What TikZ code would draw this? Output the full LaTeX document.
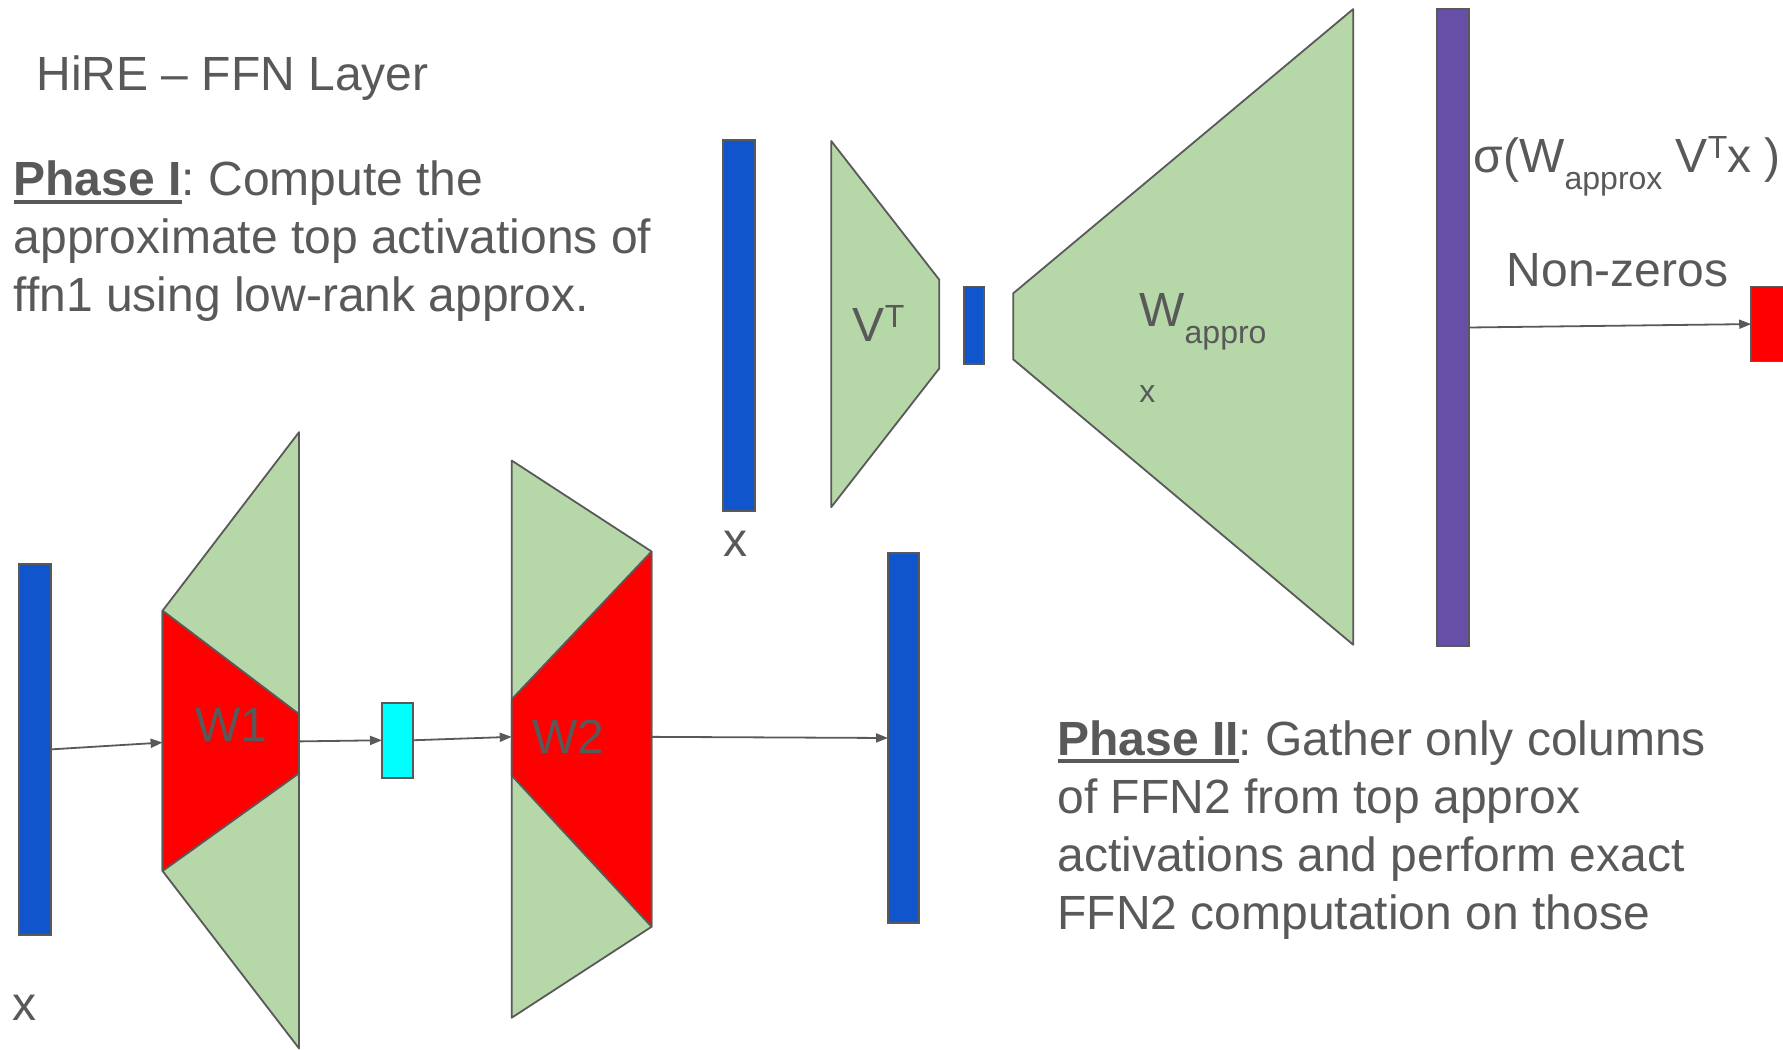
\documentclass[tikz,border=0pt]{standalone}
\usepackage{fontspec}
\setmainfont{Liberation Sans}
\usetikzlibrary{arrows.meta}
\definecolor{blueC}{HTML}{1155CC}
\definecolor{greenC}{HTML}{B6D7A8}
\definecolor{redC}{HTML}{FF0000}
\definecolor{cyanC}{HTML}{00FFFF}
\definecolor{purpleC}{HTML}{674EA7}
\definecolor{lineC}{HTML}{595959}
\definecolor{textC}{HTML}{595959}
\newcommand\subtxt[1]{\raisebox{-8.5pt}{\fontsize{16}{19}\selectfont #1}}
\newcommand\suptxt[1]{\raisebox{7pt}{\fontsize{16}{19}\selectfont #1}}
\newcommand\ulbf[1]{\setbox0\hbox{\textbf{#1}}\rlap{\rule[-4pt]{\wd0}{1.8pt}}\box0}
\frenchspacing
\begin{document}
\begin{tikzpicture}[x=0.5686pt,y=-0.5686pt,
  bar/.style={rectangle,draw=lineC,line width=0.9pt,inner sep=0pt,outer sep=0pt},
  trap/.style={draw=lineC,line width=0.9pt,line join=round},
  conn/.style={draw=lineC,line width=0.9pt,-{Triangle[length=6pt,width=4.5pt]}},
  txt/.style={text=textC,inner sep=0pt,outer sep=0pt,font=\fontsize{24}{29}\selectfont,anchor=base west}]
\useasboundingbox (0,0) rectangle (1568,923);

% ---- Phase I (top) ----
\node[bar,fill=blueC,minimum width=15.9pt,minimum height=185.4pt] (xtop) at (650,286) {};
\draw[trap,fill=greenC] (731,124) -- (826,246) -- (826,324) -- (731,446) -- cycle;
\node[bar,fill=blueC,minimum width=9.7pt,minimum height=38.7pt] (low) at (856.5,286) {};
\draw[trap,fill=greenC] (891,258) -- (1190,8) -- (1190,567) -- (891,316) -- cycle;
\node[bar,fill=purpleC,minimum width=15.9pt,minimum height=318.4pt] (sig) at (1278,288) {};
\node[bar,fill=redC,minimum width=22.7pt,minimum height=37.5pt] (nz) at (1560,285) {};
\draw[conn] (sig.east) -- (nz.west);

% ---- Phase II (bottom) ----
\node[bar,fill=blueC,minimum width=15.9pt,minimum height=185.4pt] (xbot) at (31,659) {};
\draw[trap,fill=greenC] (143,537) -- (263,380) -- (263,922) -- (143,766) -- cycle;
\draw[trap,fill=redC] (143,537) -- (263,628) -- (263,680) -- (143,766) -- cycle;
\coordinate (w1in) at (143,653);
\coordinate (w1out) at (263,652);
\node[bar,fill=cyanC,minimum width=15.4pt,minimum height=37.5pt] (hid) at (349.5,651) {};
\draw[trap,fill=greenC] (450,405) -- (573,485) -- (573,815) -- (450,895) -- cycle;
\draw[trap,fill=redC] (450,615) -- (573,485) -- (573,815) -- (450,682) -- cycle;
\coordinate (w2in) at (450,648);
\coordinate (w2out) at (573,648);
\node[bar,fill=blueC,minimum width=15.4pt,minimum height=185.4pt] (yout) at (794.5,649) {};

\draw[conn] (xbot.east) -- (w1in);
\draw[conn] (w1out) -- (hid.west);
\draw[conn] (hid.east) -- (w2in);
\draw[conn] (w2out) -- (yout.west);

% ---- Texts ----
\node[txt] (title) at (32,80) {HiRE – FFN Layer};
\node[txt] (ph1) at (12,172) {\begin{tabular}[t]{@{}l@{}}\ulbf{Phase I}: Compute the\\approximate top activations of\\ffn1 using low-rank approx.\end{tabular}};
\node[txt] (ph2) at (930,664) {\begin{tabular}[t]{@{}l@{}}\ulbf{Phase II}: Gather only columns\\of FFN2 from top approx\\activations and perform exact\\FFN2 computation on those\end{tabular}};
\node[txt] (xlab1) at (636,489) {x};
\node[txt] (xlab2) at (11,897) {x};
\node[txt] (vt) at (750,300) {V\suptxt{T}};
\node[txt] (wap) at (1002,287) {\begin{tabular}[t]{@{}l@{}}W\subtxt{appro}\\[9pt]{\fontsize{16}{19}\selectfont x}\end{tabular}};
\node[txt] (sigtxt) at (1296,152) {σ(W\subtxt{approx} V\suptxt{T}x )};
\node[txt] (nztxt) at (1325,252) {Non-zeros};
\node[txt] (w1lab) at (172,652) {W1};
\node[txt] (w2lab) at (468,663) {W2};
\end{tikzpicture}
\end{document}
